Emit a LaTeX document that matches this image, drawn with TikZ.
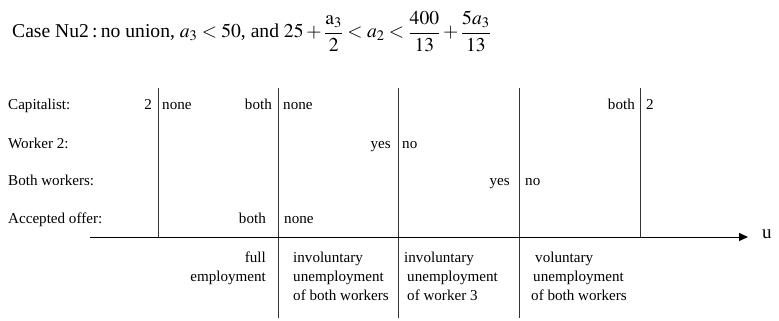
\documentclass[tikz,border=0pt]{standalone}
\usepackage{mathptmx}
\usepackage{fontspec}
\setmainfont{Liberation Serif}
\usetikzlibrary{arrows.meta,positioning}

\begin{document}
\begin{tikzpicture}[
    x=1pt,y=-1pt,
    txt/.style={inner sep=0pt,font=\fontsize{15.1}{19}\selectfont},
    lft/.style={txt,anchor=base west},
    rgt/.style={txt,anchor=base east},
    region/.style={txt,anchor=north west,align=left},
    divider/.style={line width=.9pt,black!80},
    axis/.style={-{Triangle[length=9pt,width=8pt]},line width=.9pt}
  ]
    \useasboundingbox (0,0) rectangle (779,321);
    \node[inner sep=0pt,anchor=base west,font=\fontsize{19.6}{22}\selectfont] (title) at (12,38)
      {Case Nu2\,:\,no union, $a_3<50$, and $\displaystyle 25+\frac{\mathrm{a}_3}{2}<a_2<\frac{400}{13}+\frac{5a_3}{13}$};
    % row labels
    \node[lft] (capl) at (8,110) {Capitalist:};
    \node[lft] (wkl) at (8,148) {Worker 2:};
    \node[lft] (bothl) at (8,185) {Both workers:};
    \node[lft] (accl) at (8,223) {Accepted offer:};
    % dividers
    \foreach \x/\b in {158/237,278/318,398/318,519/318,640/237}
      \draw[divider] (\x,88) -- (\x,\b);
    % capitalist
    \node[rgt] (captwo) at (152,110) {2};
    \node[lft] (capnone) at (162,110) {none};
    \node[rgt] (capboth) at (272,110) {both};
    \node[lft] (capnonetwo) at (283,110) {none};
    \node[rgt] (capbothtwo) at (635,110) {both};
    \node[lft] (captwob) at (646,110) {2};
    % worker 2
    \node[rgt] (wkyes) at (391,148) {yes};
    \node[lft] (wkno) at (402,148) {no};
    % both workers
    \node[rgt] (bwyes) at (510,185) {yes};
    \node[lft] (bwno) at (525,185) {no};
    % accepted offer
    \node[rgt] (accboth) at (266,223) {both};
    \node[lft] (accnone) at (284,223) {none};
    % axis
    \coordinate (axstart) at (90,237);
    \coordinate (axend) at (748,237);
    \node[inner sep=0pt,anchor=base west,font=\fontsize{19}{20}\selectfont] (u) at (762,238) {u};
    \draw[axis] (axstart) -- (axend);
    % regions
    \node[txt,anchor=north east,align=right] (full) at (266,252) {full\\employment};
    \node[region] (invboth) at (293,252) {involuntary\\unemployment\\of both workers};
    \node[region] (invthree) at (404,252) {involuntary\\\hspace*{3pt}unemployment\\\hspace*{3pt}of worker 3};
    \node[region] (vol) at (531,252) {\hspace*{4pt}voluntary\\\hspace*{2pt}unemployment\\of both workers};
  \end{tikzpicture}
\end{document}
